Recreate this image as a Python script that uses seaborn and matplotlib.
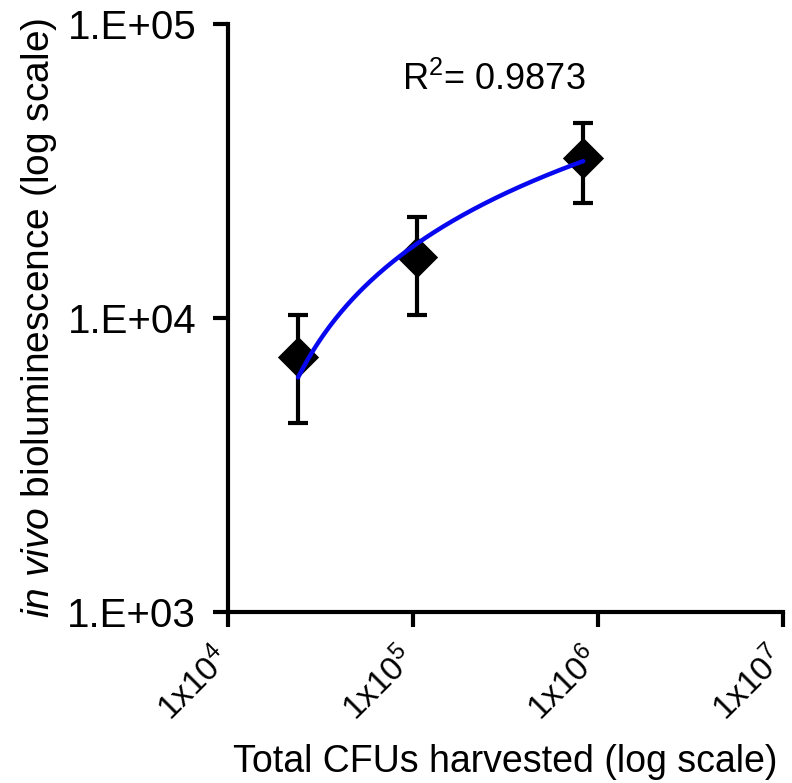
import numpy as np
import pandas as pd
import matplotlib
matplotlib.use("Agg")
import matplotlib.pyplot as plt
import matplotlib.transforms as mtransforms
import seaborn as sns

# ─────────────────────────────────────────
# Data
# ─────────────────────────────────────────
cfus = [23900, 105000, 830000]          # total CFUs harvested
biolum = [7360, 16130, 35000]           # mean in vivo bioluminescence
err_low = [4390, 10240, 24600]          # lower end of error bar
err_high = [10240, 22060, 46000]        # upper end of error bar

x_ticks = [1e4, 1e5, 1e6, 1e7]
x_tick_labels = [r"$\mathregular{1x10^{4}}$", r"$\mathregular{1x10^{5}}$",
                 r"$\mathregular{1x10^{6}}$", r"$\mathregular{1x10^{7}}$"]
y_ticks = [1e3, 1e4, 1e5]
y_tick_labels = ["1.E+03", "1.E+04", "1.E+05"]
r2_label = r"R$^{2}$= 0.9873"

df = pd.DataFrame({"cfu": cfus, "lum": biolum, "lo": err_low, "hi": err_high})

# semi-log fit: lum = a + b*log10(cfu)
b, a = np.polyfit(np.log10(df["cfu"]), df["lum"], 1)
xfit = np.logspace(np.log10(df["cfu"].min()), np.log10(df["cfu"].max()), 200)
fit = pd.DataFrame({"cfu": xfit, "lum": a + b * np.log10(xfit)})

# ─────────────────────────────────────────
# Plot
# ─────────────────────────────────────────
sns.set_style("white")
plt.rcParams["font.family"] = ["Liberation Sans", "DejaVu Sans"]
plt.rcParams["mathtext.fontset"] = "custom"
plt.rcParams["mathtext.rm"] = "Liberation Sans"
plt.rcParams["mathtext.it"] = "Liberation Sans:italic"
for key in ["text.color", "axes.labelcolor", "xtick.color", "ytick.color"]:
    plt.rcParams[key] = "black"

fig = plt.figure(figsize=(7.92, 7.83), dpi=100)
ax = fig.add_axes([0.288, 0.218, 0.701, 0.751])

ax.errorbar(df["cfu"], df["lum"],
            yerr=[df["lum"] - df["lo"], df["hi"] - df["lum"]],
            fmt="none", ecolor="black", elinewidth=3, capsize=7, capthick=3,
            zorder=2)
sns.scatterplot(data=df, x="cfu", y="lum", marker="D", s=21 ** 2,
                color="black", edgecolor="black", linewidth=0, ax=ax,
                zorder=3)
sns.lineplot(data=fit, x="cfu", y="lum", color="#0808f0", linewidth=3.2,
             ax=ax, zorder=4)

ax.set_xscale("log")
ax.set_yscale("log")
ax.set_xlim(1e4, 1e7)
ax.set_ylim(1e3, 1e5)
ax.set_xticks(x_ticks)
ax.set_xticklabels([])
ax.set_yticks(y_ticks)
ax.set_yticklabels(y_tick_labels, fontsize=29)
ax.minorticks_off()

# rotated x tick labels, placed by hand so they sit left of the tick
trans = mtransforms.blended_transform_factory(ax.transData, ax.transAxes)
offset = mtransforms.ScaledTranslation(-11 / 72, -21 / 72, fig.dpi_scale_trans)
for xt, lab in zip(x_ticks, x_tick_labels):
    ax.text(xt, 0, lab, transform=trans + offset, rotation=45,
            rotation_mode="anchor", ha="right", va="top", fontsize=24,
            clip_on=False)

for s in ["top", "right"]:
    ax.spines[s].set_visible(False)
for s in ["left", "bottom"]:
    ax.spines[s].set_linewidth(3)
    ax.spines[s].set_color("black")
ax.tick_params(axis="both", which="major", bottom=True, left=True,
               direction="out", length=11, width=3, color="black")
ax.tick_params(axis="y", pad=12)

ax.set_xlabel("Total CFUs harvested (log scale)", fontsize=27, labelpad=80)
ax.set_ylabel(r"$\mathit{in\ vivo}$ bioluminescence (log scale)",
              fontsize=28, labelpad=6)

ax.text(0.479, 0.905, r2_label, transform=ax.transAxes, ha="center",
        va="center", fontsize=26)

fig.savefig("out.png", dpi=100)
